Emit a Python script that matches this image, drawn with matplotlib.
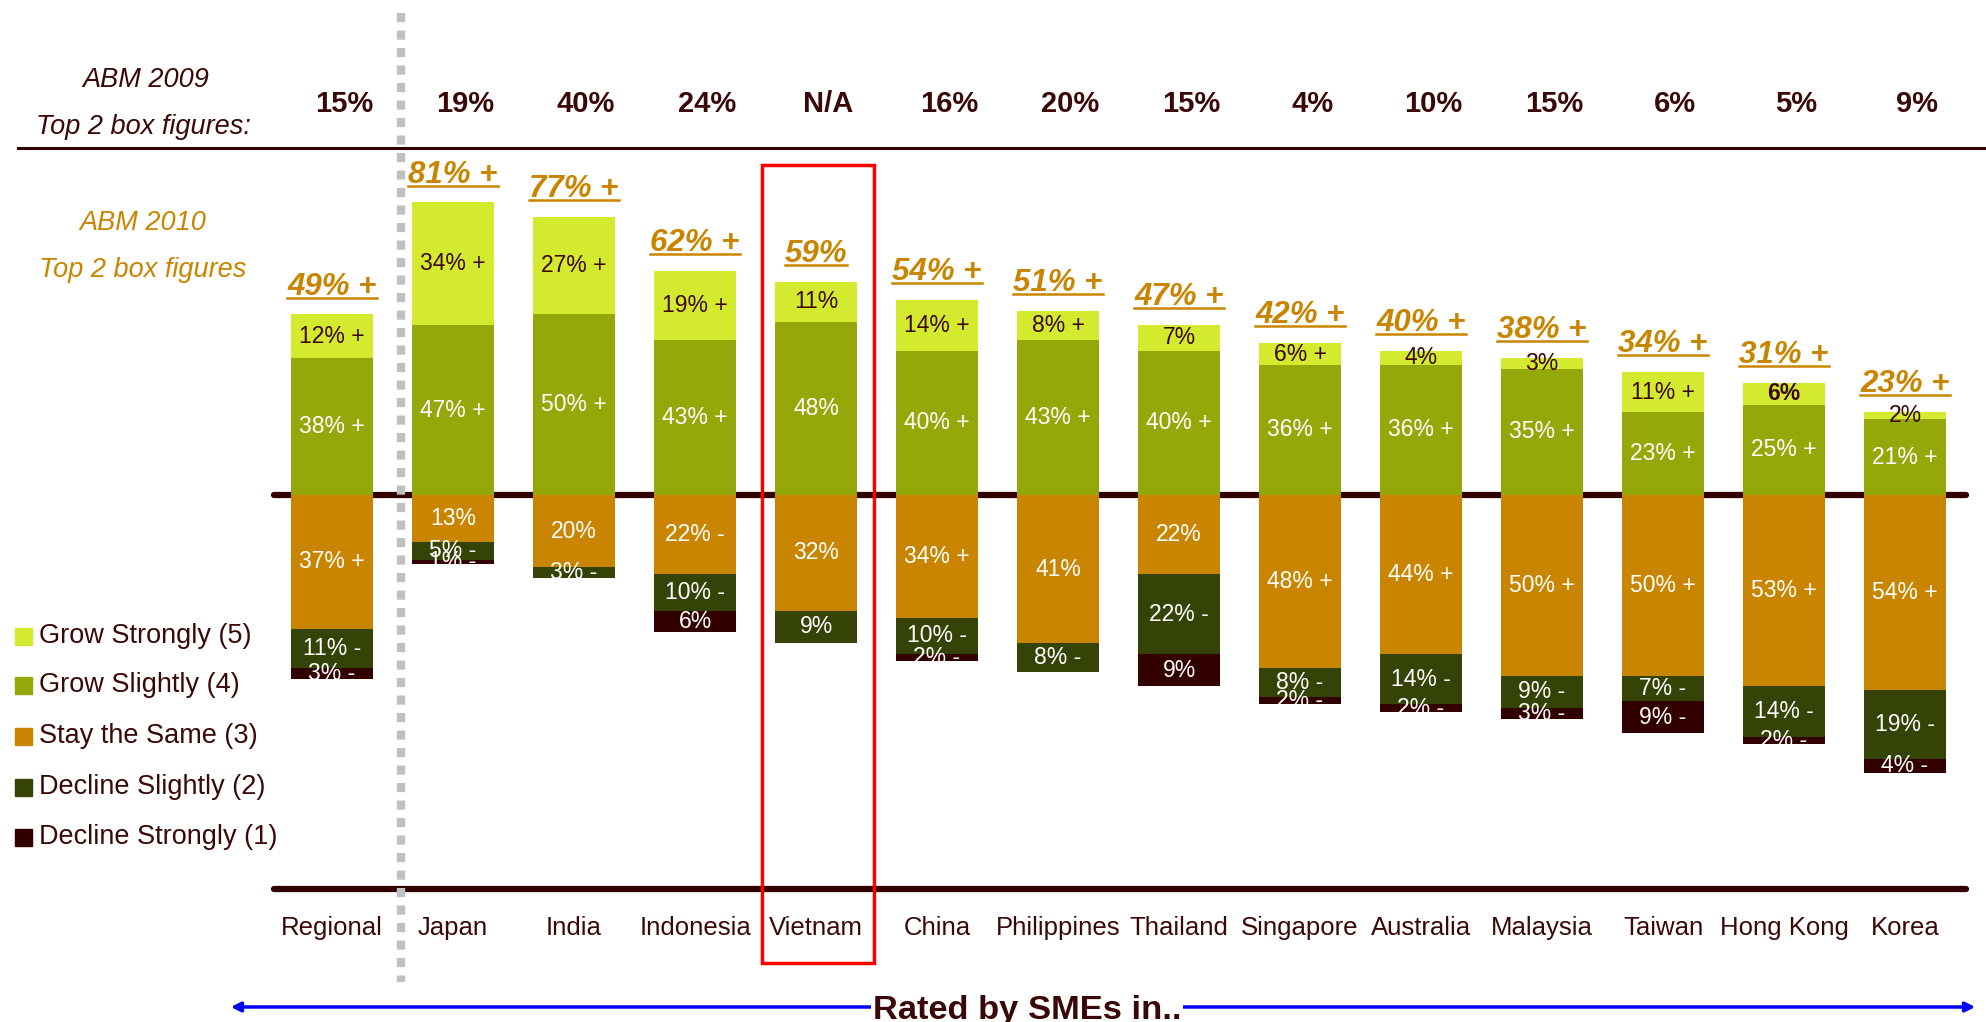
import matplotlib
matplotlib.use("Agg")
import matplotlib.pyplot as plt
import numpy as np
from matplotlib import font_manager
from matplotlib.lines import Line2D
from matplotlib.patches import Rectangle, FancyArrowPatch

# --- data --------------------------------------------------------------------
countries = ["Regional", "Japan", "India", "Indonesia", "Vietnam", "China",
             "Philippines", "Thailand", "Singapore", "Australia", "Malaysia",
             "Taiwan", "Hong Kong", "Korea"]

grow_strong = [12, 34, 27, 19, 11, 14, 8, 7, 6, 4, 3, 11, 6, 2]
grow_slight = [38, 47, 50, 43, 48, 40, 43, 40, 36, 36, 35, 23, 25, 21]
stay_same = [37, 13, 20, 22, 32, 34, 41, 22, 48, 44, 50, 50, 53, 54]
decline_slight = [11, 5, 3, 10, 9, 10, 8, 22, 8, 14, 9, 7, 14, 19]
decline_strong = [3, 1, 0, 6, 0, 2, 0, 9, 2, 2, 3, 9, 2, 4]

# significance markers shown after each value
grow_strong_sig = ["+", "+", "+", "+", "", "+", "+", "", "+", "", "", "+", "", ""]
grow_slight_sig = ["+", "+", "+", "+", "", "+", "+", "+", "+", "+", "+", "+", "+", "+"]
stay_same_sig = ["+", "", "", "-", "", "+", "", "", "+", "+", "+", "+", "+", "+"]
decline_slight_sig = ["-", "-", "-", "-", "", "-", "-", "-", "-", "-", "-", "-", "-", "-"]
decline_strong_sig = ["-", "-", "", "", "", "-", "", "", "-", "-", "-", "-", "-", "-"]

top2_2010 = [49, 81, 77, 62, 59, 54, 51, 47, 42, 40, 38, 34, 31, 23]
top2_2010_sig = ["+", "+", "+", "+", "", "+", "+", "+", "+", "+", "+", "+", "+", "+"]
top2_2009 = ["15%", "19%", "40%", "24%", "N/A", "16%", "20%", "15%", "4%",
             "10%", "15%", "6%", "5%", "9%"]

legend_labels = ["Grow Strongly (5)", "Grow Slightly (4)", "Stay the Same (3)",
                 "Decline Slightly (2)", "Decline Strongly (1)"]

# --- style -------------------------------------------------------------------
C_STRONG = "#D3EA2E"
C_SLIGHT = "#95A80A"
C_SAME = "#C98500"
C_DSLIGHT = "#354306"
C_DSTRONG = "#330000"
C_TEXT = "#3A0808"
C_ORANGE = "#C98500"
colors = [C_STRONG, C_SLIGHT, C_SAME, C_DSLIGHT, C_DSTRONG]

plt.rcParams["font.family"] = "Liberation Sans"
names = {f.name for f in font_manager.fontManager.ttflist}
NARROW = "Liberation Sans Narrow" if "Liberation Sans Narrow" in names else "Liberation Sans"
NS = 1.2 if NARROW != "Liberation Sans" else 1.0   # narrow font runs smaller

W, H = 1986, 1022
X0, DX = 332, 121          # pixel centre of first bar, spacing
Y0, DY = 495, 3.612        # pixel of zero line, pixels per percent


def fx(px):
    return px / W


def fy(py):
    return 1 - py / H


fig = plt.figure(figsize=(W / 100, H / 100), dpi=100)
ax = fig.add_axes([0, 0, 1, 1])
ax.set_xlim(-X0 / DX, (W - X0) / DX)
ax.set_ylim(-(H - Y0) / DY, Y0 / DY)
ax.axis("off")

x = np.arange(len(countries))
gs = np.array(grow_strong)
gl = np.array(grow_slight)
ss = np.array(stay_same)
ds = np.array(decline_slight)
dd = np.array(decline_strong)
bw = 0.67

ax.bar(x, gl, width=bw, color=C_SLIGHT, zorder=3)
ax.bar(x, gs, bottom=gl, width=bw, color=C_STRONG, zorder=3)
ax.bar(x, -ss, width=bw, color=C_SAME, zorder=3)
ax.bar(x, -ds, bottom=-ss, width=bw, color=C_DSLIGHT, zorder=3)
ax.bar(x, -dd, bottom=-(ss + ds), width=bw, color=C_DSTRONG, zorder=3)

# zero line behind the bars
ax.plot([(274 - X0) / DX, (1966 - X0) / DX], [0, 0], color=C_DSTRONG, lw=4.5,
        solid_capstyle="round", zorder=2)

# segment labels
segments = [
    (gs, gl + gs / 2, grow_strong_sig, C_TEXT),
    (gl, gl / 2, grow_slight_sig, "white"),
    (ss, -ss / 2, stay_same_sig, "white"),
    (ds, -ss - ds / 2, decline_slight_sig, "white"),
    (dd, -ss - ds - dd / 2, decline_strong_sig, "white"),
]
for vals, mids, sigs, col in segments:
    for i in range(len(x)):
        if vals[i] == 0:
            continue
        txt = f"{vals[i]}%" + (f" {sigs[i]}" if sigs[i] else "")
        weight = "bold" if (col == C_TEXT and countries[i] == "Hong Kong") else "normal"
        ax.text(x[i], mids[i], txt, ha="center", va="center", color=col,
                fontsize=16.5, fontweight=weight, zorder=5, clip_on=False)

# ABM 2010 labels above bars (underlined)
tops = gs + gl
top_texts = []
for i in range(len(x)):
    txt = f"{top2_2010[i]}%" + (f" {top2_2010_sig[i]}" if top2_2010_sig[i] else "")
    t = ax.text(x[i], tops[i] + 5.5, txt, ha="center", va="baseline",
                color=C_ORANGE, fontsize=22.5 * NS, fontweight="bold",
                fontstyle="italic", family=NARROW, zorder=5)
    top_texts.append(t)

# ABM 2009 row
for i in range(len(x)):
    ax.text(x[i] + 0.1, (Y0 - 104) / DY, top2_2009[i],
            ha="center", va="center", color=C_TEXT, fontsize=21 * NS,
            fontweight="bold", family=NARROW)

fig.text(fx(146), fy(80), "ABM 2009", ha="center", va="center", color=C_TEXT,
         fontsize=19.5 * NS, fontstyle="italic", family=NARROW)
fig.text(fx(143), fy(127), "Top 2 box figures:", ha="center", va="center",
         color=C_TEXT, fontsize=19.5 * NS, fontstyle="italic", family=NARROW)
fig.text(fx(143), fy(223), "ABM 2010", ha="center", va="center", color=C_ORANGE,
         fontsize=19.5 * NS, fontstyle="italic", family=NARROW)
fig.text(fx(143), fy(270), "Top 2 box figures", ha="center", va="center",
         color=C_ORANGE, fontsize=19.5 * NS, fontstyle="italic", family=NARROW)

fig.add_artist(Line2D([fx(18), fx(W)], [fy(148), fy(148)], color=C_DSTRONG,
                      lw=2.2, transform=fig.transFigure))

# category labels
for i, name in enumerate(countries):
    ax.text(x[i], -(928 - Y0) / DY, name, ha="center", va="center",
            color=C_TEXT, fontsize=18.5)

# bottom rule
fig.add_artist(Line2D([fx(274), fx(1966)], [fy(889), fy(889)], color=C_DSTRONG,
                      lw=4.5, solid_capstyle="round", transform=fig.transFigure))

# dotted divider after Regional
fig.add_artist(Line2D([fx(401), fx(401)], [fy(13), fy(982)], color="#C0C0C0",
                      lw=6, dashes=(1.1, 1.0), dash_capstyle="butt",
                      transform=fig.transFigure))

# highlight box around Vietnam
fig.add_artist(Rectangle((fx(762), fy(963)), fx(874) - fx(762), fy(165) - fy(963),
                         fill=False, edgecolor="#FF0000", lw=2.5,
                         transform=fig.transFigure, zorder=6))

# legend
rows = [636, 685, 736, 787, 837]
for col, lab, ry in zip(colors, legend_labels, rows):
    fig.add_artist(Rectangle((fx(15), fy(ry + 9)), fx(17), 17 / H, color=col,
                             transform=fig.transFigure))
    fig.text(fx(39), fy(ry), lab, ha="left", va="center", color=C_TEXT,
             fontsize=19.5)

# bottom arrow + caption
fig.add_artist(FancyArrowPatch((fx(228), fy(1007)), (fx(1978), fy(1007)),
                               arrowstyle="<|-|>", mutation_scale=14,
                               color="#0000FF", lw=2.5,
                               transform=fig.transFigure))
fig.text(fx(1027), fy(1010), "Rated by SMEs in..", ha="center", va="center",
         color=C_TEXT, fontsize=24.8 * NS, fontweight="bold", family=NARROW,
         bbox=dict(facecolor="white", edgecolor="none", pad=1))

# underline the 2010 labels
renderer = fig.canvas.get_renderer()
for t in top_texts:
    bb = t.get_window_extent(renderer)
    ybase = ax.transData.transform((0, t.get_position()[1]))[1] - 3
    fig.add_artist(Line2D([bb.x0 / W, bb.x1 / W], [ybase / H, ybase / H],
                          color=C_ORANGE, lw=1.8, transform=fig.transFigure))

fig.savefig("out.png", dpi=100)
